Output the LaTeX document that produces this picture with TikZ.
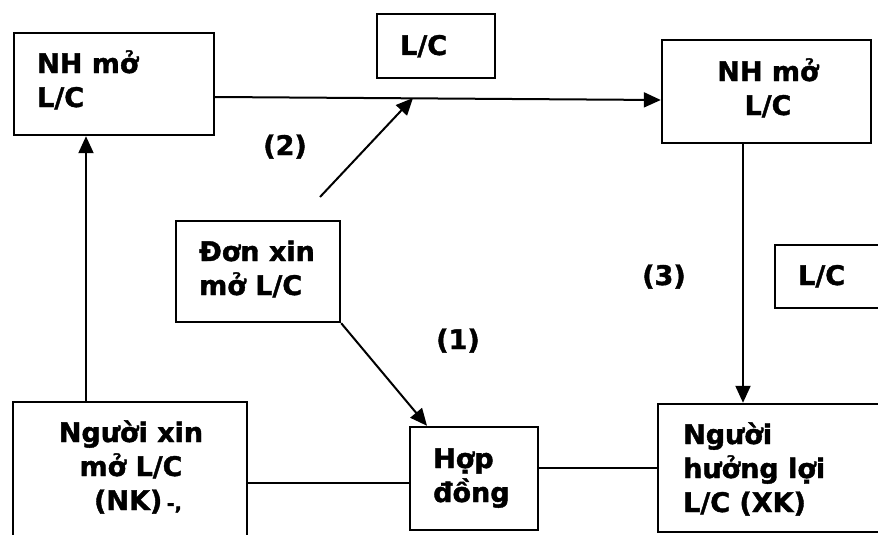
\documentclass[tikz,border=0pt]{standalone}
\usepackage{fontspec}
\setmainfont{DejaVu Sans}[BoldFeatures={FakeBold=1.5}]
\usetikzlibrary{arrows.meta,fit}
\begin{document}
\begin{tikzpicture}[x=1pt,y=-1pt,
  box/.style={draw,line width=2.4pt,inner sep=0pt},
  txt/.style={inner sep=0pt,font=\bfseries\fontsize{27}{34}\selectfont},
  ln/.style={line width=2pt},
  arr/.style={ln,-{Triangle[length=17pt,width=15pt]}}]
\useasboundingbox (0,0) rectangle (878,535);
\clip (0,0) rectangle (878,535);
% boxes
\node[box,fit={(14,33) (214,135)}] (b1) {};
\node[box,fit={(377,14) (495,78)}] (lc1) {};
\node[box,fit={(662,40) (871,143)}] (b2) {};
\node[box,fit={(176,221) (340,322)}] (don) {};
\node[box,fit={(775,245) (900,308)}] (lc2) {};
\node[box,fit={(13,402) (247,560)}] (nk) {};
\node[box,fit={(410,427) (538,530)}] (hd) {};
\node[box,fit={(658,404) (900,532)}] (xk) {};
% texts
\node[txt,align=left,anchor=base west] (t1) at (37,107) {NH mở\\L/C};
\node[txt,anchor=base west] (tlc1) at (400,55) {L/C};
\node[txt,align=center,anchor=base] (t2) at (768,115) {NH mở\\L/C};
\node[txt,align=left,anchor=base west] (tdon) at (199,295) {Đơn xin\\mở L/C};
\node[txt,anchor=base west] (tlc2) at (798,285) {L/C};
\node[txt,align=center,anchor=base] (tnk) at (131,510) {Người xin\\mở L/C\\\hspace*{14pt}(NK)\,{\fontsize{19}{20}\selectfont-,}};
\node[txt,align=left,anchor=base west] (thd) at (433,502) {Hợp\\đồng};
\node[txt,align=left,anchor=base west] (txk) at (683,512) {Người\\hưởng lợi\\L/C (XK)};
\node[txt,anchor=base] (l1) at (458,349) {(1)};
\node[txt,anchor=base] (l2) at (285,155) {(2)};
\node[txt,anchor=base] (l3) at (664,285) {(3)};
% connectors
\coordinate (a2s) at (320,197);
\coordinate (a2e) at (413,98);
\draw[arr] (b1.east |- 0,97) -- (b2.west |- 0,100);
\draw[arr] (a2s) -- (a2e);
\draw[arr] (nk.north -| 86,0) -- (b1.south -| 86,0);
\draw[arr] (don.south east) -- (hd.north -| 427,0);
\draw[ln] (nk.east |- 0,483) -- (hd.west |- 0,483);
\draw[ln] (hd.east |- 0,468) -- (xk.west |- 0,468);
\draw[arr] (b2.south -| 743,0) -- (xk.north -| 743,0);
\end{tikzpicture}
\end{document}
